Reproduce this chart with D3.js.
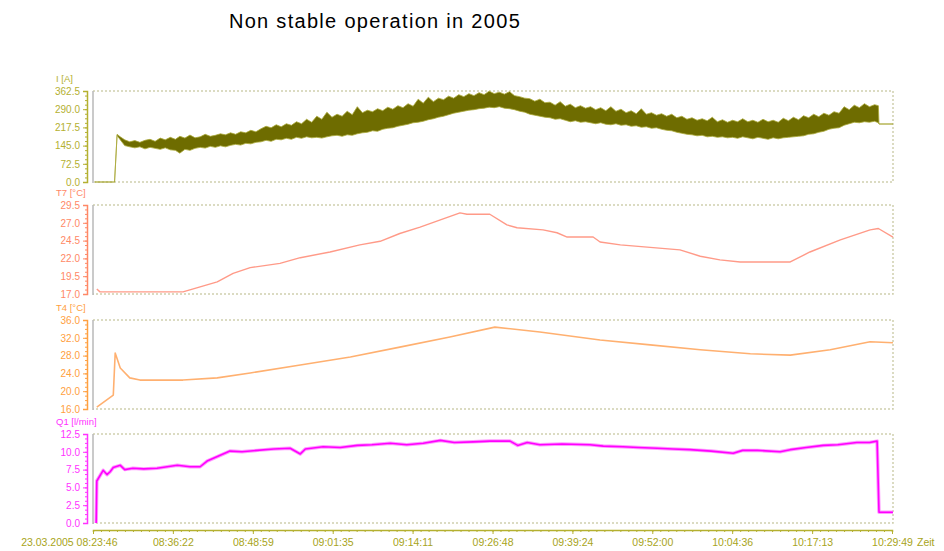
<!DOCTYPE html>
<html>
<head>
<meta charset="utf-8">
<script src="https://cdn.jsdelivr.net/npm/d3@7"></script>
<style>
    body { margin: 0; background: #fff; }
    svg text { font-family: "Liberation Sans", Arial, sans-serif; }
</style>
</head>
<body>
<div id="chart"></div>
<script>
// log start, every series time is given in minutes after this moment
const logStart = '23.03.2005 08:23:46';
const timeTickLabels = ['08:23:46', '08:36:22', '08:48:59', '09:01:35', '09:14:11', '09:26:48',
    '09:39:24', '09:52:00', '10:04:36', '10:17:13', '10:29:49'];

// I [A] - noisy, so kept as low / high envelope
const currentTime = [0.3, 3.2, 3.4, 3.8, 4.3, 5.0, 5.8, 6.6, 7.4, 8.2, 9.0, 9.8, 10.6, 11.4, 12.2,
    13.0, 13.7, 14.5, 15.3, 16.1, 16.9, 17.7, 18.5, 19.3, 20.1, 20.9, 21.7, 22.5, 23.3, 24.1,
    24.9, 25.7, 26.5, 27.3, 28.1, 28.9, 29.7, 30.5, 31.3, 32.1, 32.9, 33.7, 34.5, 35.3, 36.1,
    36.9, 37.7, 38.5, 39.3, 40.1, 40.9, 41.7, 42.5, 43.3, 44.1, 44.9, 45.7, 46.5, 47.3, 48.1,
    48.9, 49.7, 50.5, 51.3, 52.1, 52.9, 53.7, 54.5, 55.3, 56.1, 56.9, 57.7, 58.5, 59.3, 60.1,
    60.9, 61.7, 62.5, 63.3, 64.1, 64.9, 65.7, 66.5, 67.3, 68.1, 68.9, 69.7, 70.5, 71.3, 72.1,
    72.9, 73.7, 74.5, 75.3, 76.1, 76.9, 77.7, 78.5, 79.3, 80.1, 80.9, 81.7, 82.5, 83.3, 84.1,
    84.9, 85.7, 86.5, 87.3, 88.1, 88.9, 89.7, 90.5, 91.3, 92.1, 92.9, 93.7, 94.5, 95.3, 96.1,
    96.9, 97.7, 98.5, 99.3, 100.1, 100.9, 101.7, 102.5, 103.3, 104.1, 104.9, 105.7, 106.5, 107.3,
    108.1, 108.9, 109.7, 110.5, 111.3, 112.1, 112.9, 113.7, 114.5, 115.3, 116.1, 116.9, 117.7,
    118.5, 119.3, 120.1, 120.9, 121.7, 122.5, 123.3, 123.9, 124.0, 126.2];
const currentLow = [0, 0, 0, 185, 168, 145, 140, 136, 140, 132, 138, 134, 130, 136, 128,
    126, 115, 130, 126, 134, 138, 135, 142, 138, 144, 140, 146, 150, 147, 154,
    152, 158, 160, 166, 162, 170, 168, 174, 170, 178, 174, 180, 176, 178, 175,
    180, 184, 186, 182, 188, 186, 192, 196, 198, 204, 202, 210, 214, 216, 222,
    226, 230, 236, 238, 242, 248, 252, 258, 262, 268, 274, 278, 282, 286, 288,
    292, 294, 298, 296, 300, 294, 292, 288, 282, 278, 270, 266, 262, 258, 256,
    250, 252, 246, 240, 244, 238, 240, 236, 232, 236, 230, 228, 232, 226, 228,
    222, 224, 218, 220, 214, 216, 210, 206, 204, 198, 194, 190, 188, 184, 186,
    180, 182, 178, 180, 176, 178, 174, 180, 176, 172, 178, 174, 170, 176,
    172, 176, 178, 180, 182, 184, 190, 192, 198, 202, 210, 214, 216,
    226, 232, 238, 236, 240, 238, 242, 236, 231, 231];
const currentHigh = [0, 0, 0, 190, 180, 168, 160, 165, 158, 166, 170, 162, 175, 168, 178,
    170, 182, 175, 187, 176, 180, 190, 182, 186, 192, 188, 196, 190, 200, 196,
    206, 200, 212, 222, 216, 228, 220, 232, 226, 240, 232, 250, 238, 262, 250,
    278, 258, 270, 262, 282, 268, 300, 276, 286, 280, 292, 284, 298, 290, 304,
    296, 312, 302, 330, 314, 338, 320, 334, 328, 342, 334, 348, 340, 352, 344,
    356, 348, 362, 352, 358, 350, 360, 344, 340, 334, 332, 322, 330, 316, 318,
    306, 320, 302, 310, 296, 304, 294, 300, 288, 296, 284, 300, 282, 290, 276,
    284, 272, 292, 270, 276, 266, 272, 262, 270, 256, 262, 250, 256, 246, 252,
    244, 258, 240, 248, 238, 246, 240, 252, 240, 246, 238, 250, 240, 246,
    238, 254, 244, 258, 248, 264, 256, 270, 260, 274, 266, 280, 274,
    300, 288, 306, 296, 312, 300, 308, 304, 231, 231];

// T7 [°C]
const t7Time = [0.6, 1.1, 14.2, 16.9, 19.6, 22.1, 24.8, 29.5, 32.7, 37.4, 42.1, 45.3, 48.4, 51.6,
    54.8, 57.9, 59.0, 62.6, 65.3, 66.9, 71.0, 73.2, 74.8, 78.9, 80.0, 83.2, 92.6, 95.8, 98.9,
    102.1, 110.0, 113.1, 117.9, 122.6, 123.9, 126.2];
const t7Values = [17.7, 17.3, 17.3, 18.0, 18.7, 19.9, 20.7, 21.3, 22.1, 22.9, 23.9, 24.4, 25.5, 26.4,
    27.4, 28.4, 28.2, 28.2, 26.7, 26.3, 26.0, 25.6, 25.0, 25.0, 24.3, 23.9, 23.2, 22.3, 21.8,
    21.5, 21.5, 22.9, 24.6, 26.0, 26.2, 25.0];

// T4 [°C]
const t4Time = [0.6, 3.2, 3.5, 4.3, 5.8, 7.4, 14.2, 19.6, 24.8, 32.7, 40.6, 48.4, 56.3, 63.4,
    70.5, 80.0, 87.9, 95.8, 103.7, 110.0, 116.3, 122.6, 126.2];
const t4Values = [16.4, 19.1, 28.6, 25.2, 23.0, 22.5, 22.5, 23.0, 24.1, 25.9, 27.7, 29.9, 32.2, 34.4,
    33.3, 31.5, 30.4, 29.3, 28.4, 28.1, 29.3, 31.1, 30.9];

// Q1 [l/min]
const q1Time = [0.5, 0.6, 1.6, 2.2, 2.7, 3.2, 4.3, 5.0, 6.3, 8.0, 10.1, 13.3, 15.3, 16.9, 18.0, 19.8,
    21.6, 23.5, 25.9, 28.5, 31.1, 32.7, 33.5, 36.3, 39.0, 41.7, 44.0, 46.9, 49.5, 52.1, 54.8, 57.0,
    60.0, 62.6, 65.8, 67.0, 68.5, 70.5, 74.0, 78.4, 80.5, 83.6, 86.0, 89.0, 91.5, 94.2, 97.5, 101.0,
    102.5, 104.8, 108.4, 110.0, 112.5, 115.2, 117.5, 120.5, 122.5, 123.7, 124.0, 126.2];
const q1Values = [0, 5.9, 7.4, 6.8, 7.2, 7.8, 8.1, 7.5, 7.7, 7.6, 7.7, 8.1, 7.9, 7.9, 8.7, 9.4,
    10.1, 10.0, 10.2, 10.4, 10.5, 9.7, 10.4, 10.7, 10.6, 10.9, 11.0, 11.2, 11.0, 11.2, 11.6, 11.3,
    11.4, 11.5, 11.5, 10.9, 11.3, 11.0, 11.1, 11.0, 10.8, 10.7, 10.6, 10.5, 10.4, 10.3, 10.1, 9.8,
    10.2, 10.2, 10.0, 10.3, 10.6, 10.9, 11.0, 11.3, 11.3, 11.5, 1.5, 1.5];

const currentTicks = [0, 72.5, 145, 217.5, 290, 362.5];
const t7Ticks = [17, 19.5, 22, 24.5, 27, 29.5];
const t4Ticks = [16, 20, 24, 28, 32, 36];
const q1Ticks = [0, 2.5, 5, 7.5, 10, 12.5];

const width = 944, height = 551;
const plotLeft = 93, plotRight = 892;

const parseStamp = d3.timeParse('%d.%m.%Y %H:%M:%S');
const t0 = parseStamp(logStart);
const day = logStart.split(' ')[0];
const toDate = m => new Date(t0.getTime() + m * 60000);
const tickDates = timeTickLabels.map(s => parseStamp(day + ' ' + s));

const svg = d3.select('#chart').append('svg')
    .attr('width', width)
    .attr('height', height);

const x = d3.scaleTime()
    .domain([t0, tickDates[tickDates.length - 1]])
    .range([plotLeft, plotRight]);

svg.append('text')
    .attr('x', 375)
    .attr('y', 28)
    .attr('text-anchor', 'middle')
    .style('font-size', '20px')
    .style('letter-spacing', '1.3px')
    .text('Non stable operation in 2005');

const panels = [
    {title: 'I [A]', top: 91, bottom: 182, ticks: currentTicks, color: '#b4b030'},
    {title: 'T7 [°C]', top: 205, bottom: 294, ticks: t7Ticks, color: '#ff8866'},
    {title: 'T4 [°C]', top: 320, bottom: 409, ticks: t4Ticks, color: '#ffa040'},
    {title: 'Q1 [l/min]', top: 434, bottom: 523, ticks: q1Ticks, color: '#ff33ff'}
];

panels.forEach(p => {
    p.y = d3.scaleLinear()
        .domain([p.ticks[0], p.ticks[p.ticks.length - 1]])
        .range([p.bottom, p.top]);

    const g = svg.append('g');

    // dotted frame, solid grey on the left
    g.append('path')
        .attr('d', `M${plotLeft},${p.top}H${plotRight + 1}V${p.bottom}H${plotLeft}`)
        .attr('fill', 'none')
        .attr('stroke', '#cfcfae')
        .attr('stroke-width', 1.5)
        .attr('stroke-dasharray', '2,2');
    g.append('line')
        .attr('x1', plotLeft).attr('x2', plotLeft)
        .attr('y1', p.top).attr('y2', p.bottom + 1)
        .attr('stroke', '#b8b8b8')
        .attr('stroke-width', 1.5);

    // minor ticks on the coloured axis
    const step = p.ticks[1] - p.ticks[0];
    const minor = d3.range(p.ticks[0], p.y.domain()[1] + step / 10, step / 4);
    g.append('g')
        .attr('transform', 'translate(87,0)')
        .call(d3.axisLeft(p.y).tickValues(minor).tickSize(2).tickFormat(''))
        .call(a => a.select('.domain').remove())
        .call(a => a.selectAll('line').attr('stroke', p.color));

    g.append('g')
        .attr('transform', 'translate(87,0)')
        .call(d3.axisLeft(p.y).tickValues(p.ticks).tickSize(4).tickPadding(3).tickFormat(d3.format('.1f')))
        .call(a => a.select('.domain').attr('stroke', p.color).attr('stroke-width', 1.5))
        .call(a => a.selectAll('line').attr('stroke', p.color))
        .call(a => a.selectAll('text').attr('fill', p.color).style('font-size', '10px'));

    g.append('text')
        .attr('x', 56)
        .attr('y', p.top - 9)
        .attr('fill', p.color)
        .style('font-size', '9.5px')
        .text(p.title);
});

// I [A] band
const pI = panels[0];
const currentData = currentTime.map((t, i) => ({t: t, lo: currentLow[i], hi: currentHigh[i]}));
svg.append('path')
    .datum(currentData)
    .attr('d', d3.area()
        .x(d => x(toDate(d.t)))
        .y0(d => pI.y(d.lo))
        .y1(d => pI.y(d.hi)))
    .attr('fill', '#6e6c00')
    .attr('stroke', '#aaa838')
    .attr('stroke-width', 0.8);

function drawLine(times, values, panel, color, w) {
    const data = times.map((t, i) => ({t: t, v: values[i]}));
    svg.append('path')
        .datum(data)
        .attr('d', d3.line().x(d => x(toDate(d.t))).y(d => panel.y(d.v)))
        .attr('fill', 'none')
        .attr('stroke', color)
        .attr('stroke-width', w)
        .attr('stroke-linejoin', 'round');
}

drawLine(t7Time, t7Values, panels[1], '#ff9a88', 1.4);
drawLine(t4Time, t4Values, panels[2], '#ffb070', 1.6);
drawLine(q1Time, q1Values, panels[3], '#ff99ff', 3.5);
drawLine(q1Time, q1Values, panels[3], '#ff00ff', 1.6);

// time axis
const xColor = '#b4b030';
const minorDates = d3.range(0, 101).map(i => new Date(+t0 + (tickDates[10] - t0) * i / 100));
svg.append('g')
    .attr('transform', 'translate(0,530)')
    .call(d3.axisBottom(x).tickValues(minorDates).tickSize(2).tickFormat(''))
    .call(a => a.select('.domain').attr('stroke', xColor).attr('stroke-width', 1.5))
    .call(a => a.selectAll('line').attr('stroke', xColor));

const xAxisG = svg.append('g')
    .attr('transform', 'translate(0,530)')
    .call(d3.axisBottom(x).tickValues(tickDates).tickSize(4).tickPadding(5)
        .tickFormat((d, i) => i === 0 ? logStart : d3.timeFormat('%H:%M:%S')(d)))
    .call(a => a.select('.domain').remove())
    .call(a => a.selectAll('line').attr('stroke', xColor))
    .call(a => a.selectAll('text').attr('fill', '#a8a420').style('font-size', '10.5px'));

xAxisG.selectAll('.tick text')
    .filter((d, i) => i === 0)
    .attr('text-anchor', 'end')
    .attr('dx', 24);

svg.append('text')
    .attr('x', 917)
    .attr('y', 546)
    .attr('fill', '#a8a420')
    .style('font-size', '10.5px')
    .text('Zeit');
</script>
</body>
</html>
